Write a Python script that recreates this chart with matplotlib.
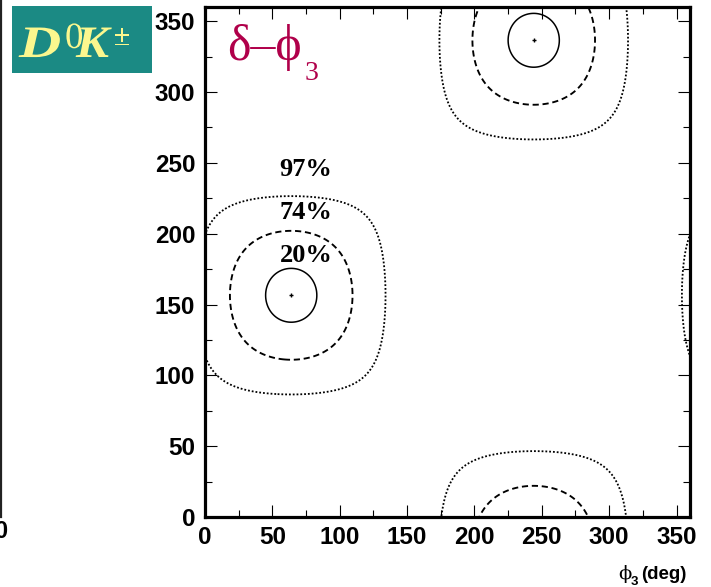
import numpy as np
import matplotlib
matplotlib.use("Agg")
import matplotlib.pyplot as plt
from matplotlib.lines import Line2D
from matplotlib.patches import Rectangle, PathPatch
from matplotlib.textpath import TextPath
from matplotlib.font_manager import FontProperties
from matplotlib.transforms import Affine2D
from matplotlib.ticker import MultipleLocator

# Two-fold ambiguous solutions (phi3, delta) in degrees
phi3_solutions = [64.0, 244.0]
delta_solutions = [156.5, 336.5]

# Confidence regions: half-width (deg) of each contour, its label and style
cl_labels = ["20%", "74%", "97%"]
cl_halfwidth = [19.0, 45.5, 70.0]
cl_styles = ["solid", (0, (3.3, 2.0)), (0, (1.0, 1.1))]
cl_widths = [1.1, 1.35, 1.3]

# Positions of the percentage labels (phi3, delta)
label_phi3 = [75.0, 75.0, 75.0]
label_delta = [184.7, 214.9, 245.6]

x_ticks = [0, 50, 100, 150, 200, 250, 300, 350]
y_ticks = [0, 50, 100, 150, 200, 250, 300, 350]

W, H = 711, 587
fig = plt.figure(figsize=(W / 100, H / 100), dpi=100)
ax = fig.add_axes([205 / W, 70 / H, 485 / W, 510 / H])

# Likelihood-like surface around each solution (periodic in 360 deg)
shape = 0.019  # rad per degree, controls how square the outer regions get


def g(t):
    c = np.cos(np.clip(np.abs(t) * shape, 0, 1.55))
    return -np.log(c)


xs = np.arange(-10, 370.01, 0.4)
ys = np.arange(-10, 370.01, 0.4)
X, Y = np.meshgrid(xs, ys)
F = np.full(X.shape, np.inf)
for px, py in zip(phi3_solutions, delta_solutions):
    for sx in (-360, 0, 360):
        for sy in (-360, 0, 360):
            F = np.minimum(F, g(X - px - sx) + g(Y - py - sy))

for r, ls, lw in zip(cl_halfwidth, cl_styles, cl_widths):
    cs = ax.contour(X, Y, F, levels=[g(r)], colors="black", linewidths=lw)
    cs.set_linestyle(ls)

ax.plot(phi3_solutions, delta_solutions, "+", color="black", ms=3, mew=1.0)

for lab, lx, ly in zip(cl_labels, label_phi3, label_delta):
    ax.text(lx, ly, lab, ha="center", va="center", fontsize=19,
            fontweight="bold", family=["Liberation Serif", "DejaVu Serif"])

ax.set_xlim(0, 360)
ax.set_ylim(0, 360)
ax.set_xticks(x_ticks)
ax.set_yticks(y_ticks)
ax.xaxis.set_minor_locator(MultipleLocator(25))
ax.yaxis.set_minor_locator(MultipleLocator(25))
ax.tick_params(which="both", direction="in", top=True, right=True, width=0.8)
ax.tick_params(which="major", length=8.6)
ax.tick_params(which="minor", length=4.8)
ax.tick_params(axis="y", pad=7)
ax.tick_params(axis="x", pad=6.5)
for lab in ax.get_xticklabels() + ax.get_yticklabels():
    lab.set_fontsize(17.5)
    lab.set_fontweight("bold")
    lab.set_family("Liberation Sans")
for sp in ax.spines.values():
    sp.set_linewidth(2.3)


def fx(x):
    return x / W


def fy(y):
    return 1 - y / H


# Axis title, bottom right
fig.text(fx(618), fy(579), "\u03d5", fontsize=14,
         family=["DejaVu Serif"], ha="left", va="baseline")
fig.text(fx(631), fy(585), "3", fontsize=9.5, fontweight="bold",
         family="Liberation Sans", ha="left", va="baseline")
fig.text(fx(641), fy(579), "(deg)", fontsize=13.5, fontweight="bold",
         family="Liberation Sans", ha="left", va="baseline")

# Panel title
crimson = "#b0004a"
fig.text(fx(227), fy(60), "\u03b4\u2013\u03d5", fontsize=36, color=crimson,
         family=["Liberation Serif", "DejaVu Serif"], ha="left", va="baseline")
fig.text(fx(305), fy(80), "3", fontsize=20, color=crimson,
         family="Liberation Serif", ha="left", va="baseline")

# Channel badge
fig.patches.append(Rectangle((fx(12), fy(73.3)), 140 / W, 67.3 / H,
                             transform=fig.transFigure, facecolor="#1b8a84",
                             edgecolor="none", zorder=0))
yellow = "#fbf78e"
bi = FontProperties(family="Liberation Serif", weight="bold", style="italic")
rm = FontProperties(family="Liberation Serif")


def glyph(s, prop, size, x, y_base, sx=1.0):
    """Place a glyph in pixel coordinates (y measured from the top)."""
    path = TextPath((0, 0), s, size=size, prop=prop)
    tr = Affine2D().scale(sx, 1.0).translate(x, H - y_base)
    fig.patches.append(PathPatch(path, transform=tr, facecolor=yellow,
                                 edgecolor="none", zorder=2))


glyph("D", bi, 45, 19, 57, sx=1.3)
glyph("0", rm, 37, 65, 48)
glyph("K", bi, 45, 76, 57, sx=1.1)
glyph("\u00b1", rm, 30, 114, 45)

# Edge of the neighbouring panel
fig.add_artist(Line2D([fx(1), fx(1)], [fy(0), fy(517)], transform=fig.transFigure,
                      color="#222222", lw=1.6))
fig.text(fx(7), fy(531), "0", fontsize=17, fontweight="bold",
         family="Liberation Sans", ha="right", va="center")

fig.savefig("out.png", dpi=100)
